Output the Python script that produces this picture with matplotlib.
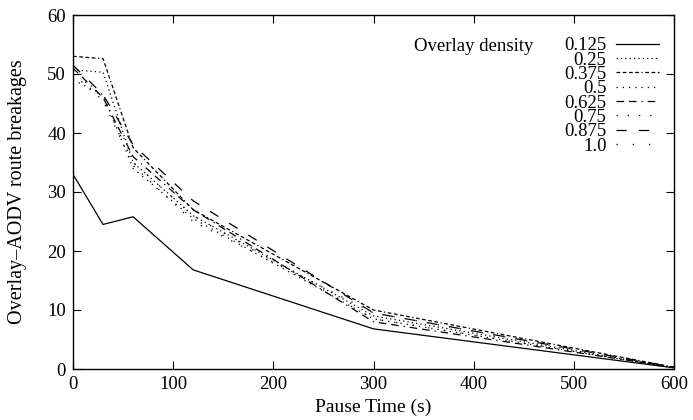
import matplotlib
matplotlib.use("Agg")
import matplotlib.pyplot as plt

pause = [0, 30, 60, 120, 300, 600]
densities = ["0.125", "0.25", "0.375", "0.5", "0.625", "0.75", "0.875", "1.0"]
d0125 = [33.0, 24.5, 25.8, 16.8, 6.8, 0.2]
d025 = [50.7, 50.3, 35.0, 26.0, 9.0, 0.2]
d0375 = [53.0, 52.6, 37.5, 27.0, 10.0, 0.3]
d05 = [49.0, 46.5, 34.0, 25.5, 8.5, 0.2]
d0625 = [51.0, 46.0, 36.0, 27.0, 8.0, 0.3]
d075 = [50.0, 45.5, 34.5, 25.0, 9.5, 0.2]
d0875 = [51.5, 46.5, 38.0, 28.5, 9.5, 0.3]
d10 = [50.5, 46.0, 35.0, 26.0, 8.5, 0.2]
series = [d0125, d025, d0375, d05, d0625, d075, d0875, d10]

styles = ["-", (0, (1, 2.5)), (0, (3, 2, 3, 2, 3, 2, 3, 2, 1, 2)), (0, (1, 4)),
          (0, (6, 4, 6, 4, 1, 4)), (0, (1, 8)), (0, (8, 10)), (0, (1, 12))]

plt.rcParams["font.family"] = ["Liberation Serif", "DejaVu Serif"]
plt.rcParams["font.size"] = 13.5

fig = plt.figure(figsize=(6.93, 4.2), dpi=100)
ax = fig.add_axes([73 / 693, 1 - 369 / 420, 601 / 693, 354 / 420])

for vals, lab, ls in zip(series, densities, styles):
    ax.plot(pause, vals, color="black", lw=0.9, linestyle=ls, label=lab)

ax.set_xlim(0, 600)
ax.set_ylim(0, 60)
ax.set_xticks(range(0, 601, 100))
ax.set_yticks(range(0, 61, 10))
ax.tick_params(direction="in", top=True, right=True, length=6, width=0.8, pad=5)
for s in ax.spines.values():
    s.set_linewidth(1.0)

ax.set_xlabel("Pause Time (s)", fontsize=14)
ax.xaxis.set_label_coords(0.5, -0.085)
ax.set_ylabel("Overlay\u2013AODV route breakages", fontsize=14.5)
ax.yaxis.set_label_coords(-0.077, 0.5)

leg = ax.legend(loc="upper right", bbox_to_anchor=(0.975, 0.937), markerfirst=False,
                frameon=False, handlelength=2.3, handletextpad=0.5,
                labelspacing=-0.15, borderaxespad=0, borderpad=0)
ax.text(0.567, 0.912, "Overlay density", transform=ax.transAxes, va="center", ha="left")

fig.savefig("out.png", dpi=100)
